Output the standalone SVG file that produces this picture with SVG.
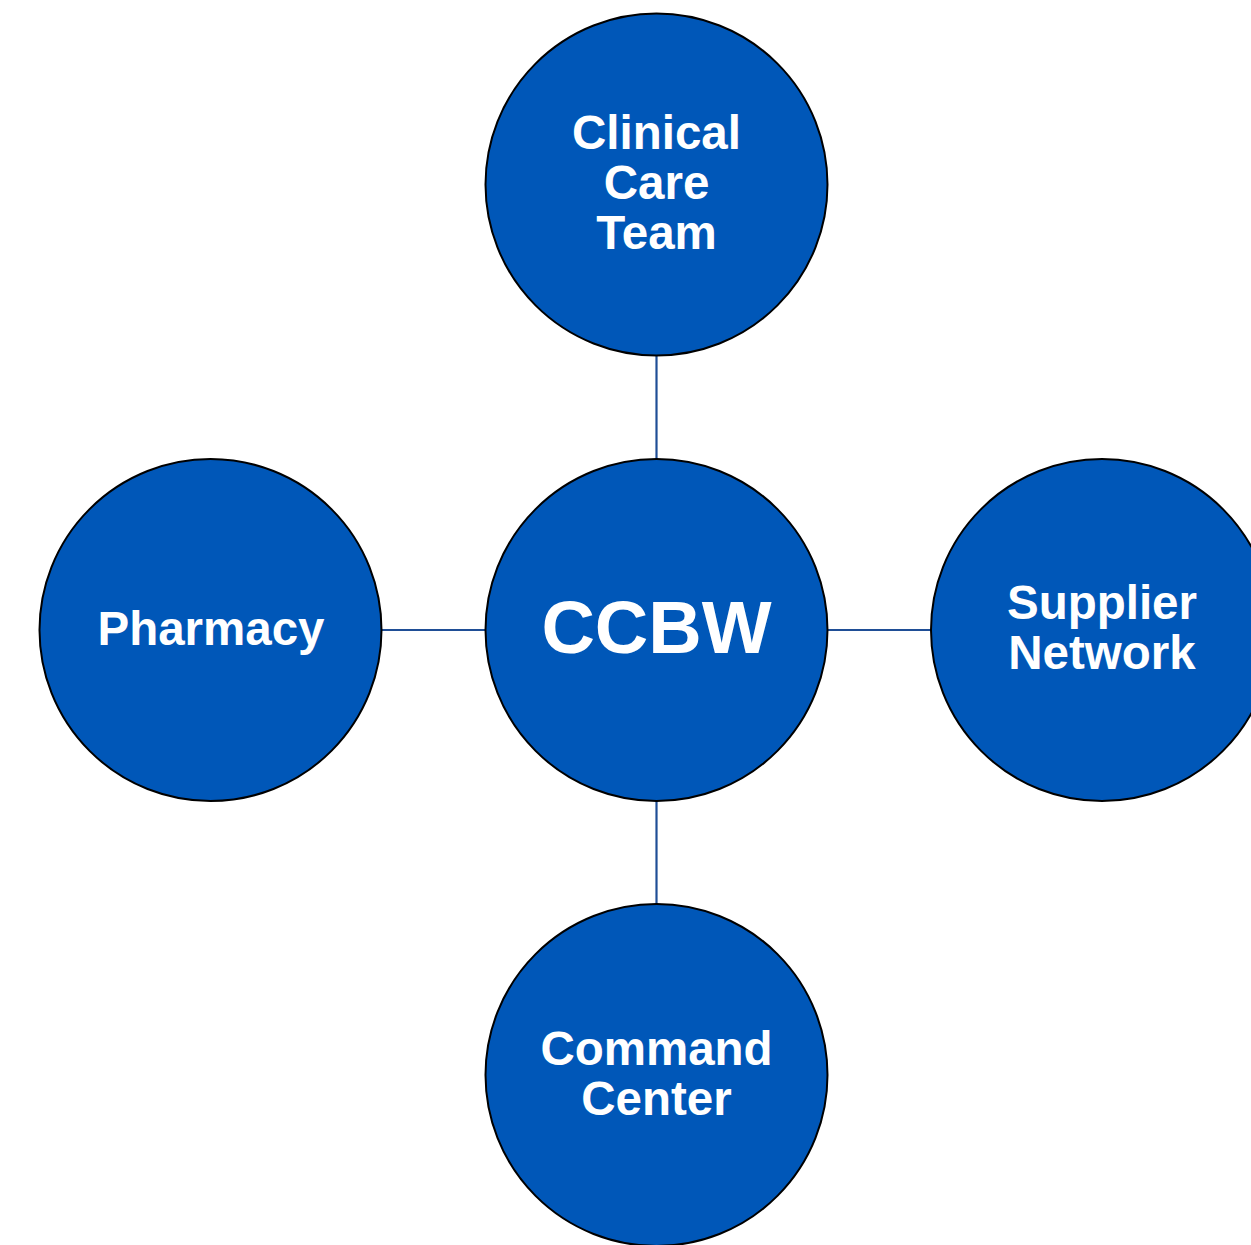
<svg xmlns="http://www.w3.org/2000/svg" width="1251" height="1245" viewBox="0 0 1251 1245">
<style>
.node{fill:#0057b8;stroke:#000;stroke-width:2}
.lbl{fill:#fff;font-family:"Liberation Sans",Arial,sans-serif;font-weight:bold;font-size:47.5px;text-anchor:middle}
.big{font-size:74px}
.conn{stroke:#1f4e96;stroke-width:2.2;fill:none}
</style>
<rect width="1251" height="1245" fill="#fff"/>
<g id="connectors">
<line class="conn" x1="656.5" y1="356" x2="656.5" y2="459"/>
<line class="conn" x1="382" y1="630" x2="485" y2="630"/>
<line class="conn" x1="828" y1="630" x2="931" y2="630"/>
<line class="conn" x1="656.5" y1="801" x2="656.5" y2="904"/>
</g>
<g id="ccbw"><circle class="node" cx="656.5" cy="630" r="171"/><text class="lbl big" x="656.5" y="653">CCBW</text></g>
<g id="clinical"><circle class="node" cx="656.5" cy="184.5" r="171"/><text class="lbl" x="656.5" y="149">Clinical</text><text class="lbl" x="656.5" y="199">Care</text><text class="lbl" x="656.5" y="249">Team</text></g>
<g id="pharmacy"><circle class="node" cx="210.5" cy="630" r="171"/><text class="lbl" x="211" y="645">Pharmacy</text></g>
<g id="supplier"><circle class="node" cx="1102" cy="630" r="171"/><text class="lbl" x="1102" y="619">Supplier</text><text class="lbl" x="1102" y="669">Network</text></g>
<g id="command"><circle class="node" cx="656.5" cy="1075" r="171"/><text class="lbl" x="656.5" y="1065">Command</text><text class="lbl" x="656.5" y="1115">Center</text></g>
</svg>
